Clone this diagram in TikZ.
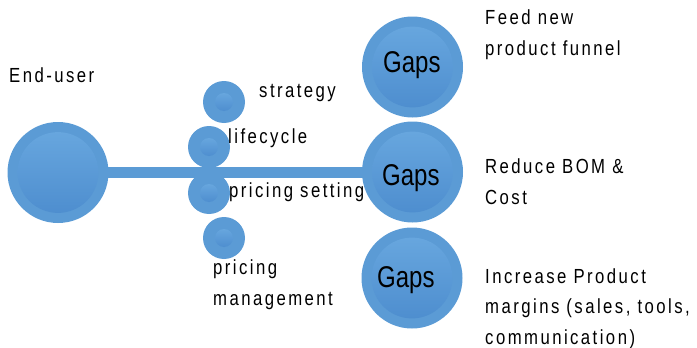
\documentclass[tikz,border=0pt]{standalone}
\usepackage{fontspec}
\setmainfont{Liberation Sans}[FakeStretch=0.82]
\newfontfamily\lblfont{Liberation Sans}[FakeStretch=0.82, LetterSpace=12]
\newfontfamily\gapfont{Liberation Sans}[FakeStretch=0.80]
\begin{document}
\begin{tikzpicture}[x=1pt,y=-1pt,
  ring/.style={circle, fill=ringblue, inner sep=0pt, minimum size=#1},
  lbl/.style={anchor=base west, inner sep=0pt, align=left,
    font=\lblfont\fontsize{20.4}{30.5}\selectfont},
  gaptext/.style={anchor=base west, inner sep=0pt, font=\gapfont\fontsize{30}{30}\selectfont}]
\definecolor{ringblue}{HTML}{5B9BD5}
\definecolor{coretop}{HTML}{67A6DE}
\definecolor{corebot}{HTML}{4E8ECF}
\useasboundingbox (0,0) rectangle (697,348);

% connector bar from the end-user hub to the middle gap
\coordinate (barL) at (58,172.5);
\coordinate (barR) at (412,172.5);
\draw[ringblue, line width=11pt] (barL) -- (barR);

% large hub circles: outer ring plus shaded core
\newcommand\hubdisc[4]{% name, x, y, radius
  \node[ring=#4*2pt] (#1) at (#2,#3) {};
  \shade[top color=coretop, bottom color=corebot] (#2,#3) circle[radius=#4*0.8];
}
\hubdisc{user}{58}{172.5}{50.5}
\hubdisc{gapA}{412.5}{67}{50.5}
\hubdisc{gapB}{412.5}{172}{50.5}
\hubdisc{gapC}{412}{278}{50.5}

% small topic circles
\newcommand\dotdisc[3]{% name, x, y
  \node[ring=42pt] (#1) at (#2,#3) {};
  \shade[top color=coretop, bottom color=corebot] (#2,#3) circle[radius=9];
}
\dotdisc{strat}{224}{102}
\dotdisc{life}{209}{147}
\dotdisc{pset}{209}{193}
\dotdisc{pman}{224}{238}

% "Gaps" labels
\node[gaptext] (gA) at (383,72) {Gaps};
\node[gaptext] (gB) at (382,185) {Gaps};
\node[gaptext] (gC) at (377,287) {Gaps};

% text labels (anchored at the baseline of the last line)
\node[lbl] (tuser) at (9,82) {End-user};
\node[lbl] (tstrat) at (259,97) {strategy};
\node[lbl] (tlife) at (228,143) {lifecycle};
\node[lbl] (tpset) at (229,197) {pricing setting};
\node[lbl] (tpman) at (213,305) {pricing\\management};
\node[lbl] (tfeed) at (485,55) {Feed new\\product funnel};
\node[lbl] (tbom) at (485,204) {Reduce BOM \&\\Cost};
\node[lbl] (tmarg) at (485,344) {Increase Product\\margins (sales, tools,\\communication)};
\end{tikzpicture}
\end{document}
